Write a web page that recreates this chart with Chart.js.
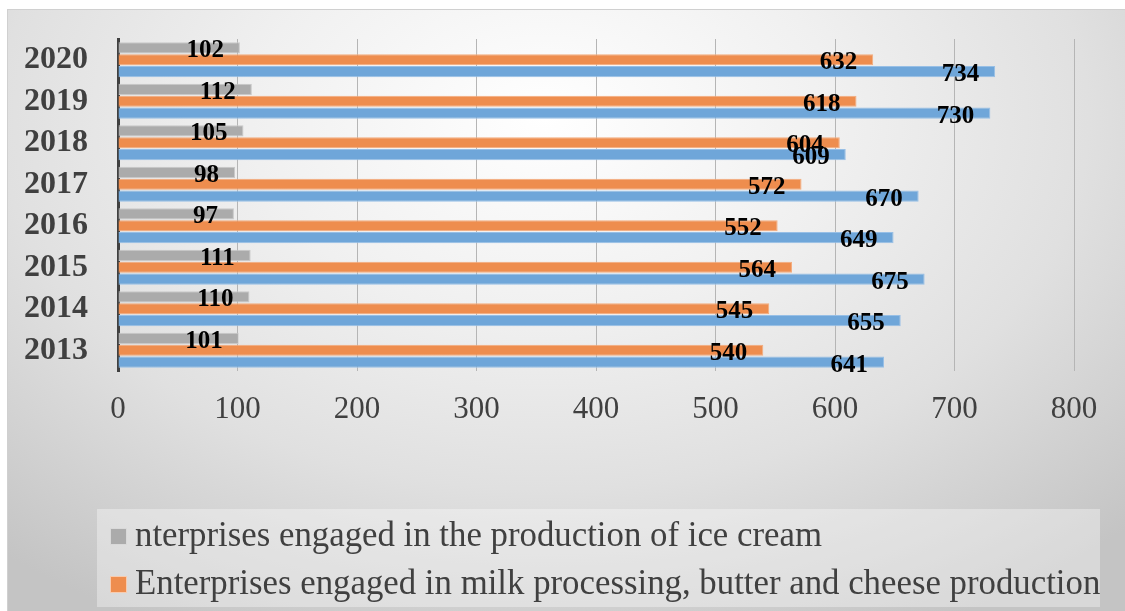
<!DOCTYPE html>
<html>
<head>
<meta charset="utf-8">
<script src="https://cdn.jsdelivr.net/npm/chart.js@4"></script>
<style>
  html, body { margin: 0; padding: 0; background: #fff; }
  #wrap { position: relative; width: 1125px; height: 611px; overflow: hidden; }
  #bg {
    position: absolute; left: 7px; top: 9px; right: 0; bottom: 0;
    border-top: 1px solid #d0d0d0; border-left: 1px solid #d0d0d0;
    background: radial-gradient(ellipse 75% 95% at 48% 18%, #ffffff 0%, #f0f0f0 35%, #e0e0e0 65%, #c4c4c4 100%);
  }
  #canvasBox { position: absolute; left: 0; top: 0; width: 1125px; height: 611px; }
  #legend {
    position: absolute; left: 97px; top: 509px; width: 1003px; height: 98px;
    background: rgba(255, 255, 255, 0.35);
    font-family: "Liberation Serif", "Times New Roman", serif;
    font-size: 34.8px; color: #404040;
  }
  .item { position: absolute; left: 13px; white-space: nowrap; line-height: 38px; }
  .item span.box {
    display: inline-block; width: 15px; height: 15px; margin-right: 8px;
    vertical-align: 1px; border: 1.5px solid rgba(255,255,255,0.55);
  }
</style>
</head>
<body>
<div id="wrap">
  <div id="bg"></div>
  <div id="canvasBox"><canvas id="chart"></canvas></div>
  <div id="legend"></div>
</div>
<script>
// top to bottom, as shown
const years = ['2020', '2019', '2018', '2017', '2016', '2015', '2014', '2013'];
const iceCream = [102, 112, 105, 98, 97, 111, 110, 101];
const milkButterCheese = [632, 618, 604, 572, 552, 564, 545, 540];
const thirdSeries = [734, 730, 609, 670, 649, 675, 655, 641];
const seriesNames = [
  'nterprises engaged in the production of ice cream',
  'Enterprises engaged in milk processing, butter and cheese production',
  'Enterprises engaged in dairy production'
];
const xTicks = [0, 100, 200, 300, 400, 500, 600, 700, 800];

const fills = ['#ababab', '#ee8d4e', '#6fa6d9'];
const edges = ['#c8c8c8', '#f3ac7d', '#97bfe6'];

// value labels, right aligned just inside the bar end
const barLabels = {
  id: 'barLabels',
  afterDatasetsDraw(chart) {
    const ctx = chart.ctx;
    ctx.save();
    ctx.font = 'bold 25px "Liberation Serif"';
    ctx.fillStyle = '#000';
    ctx.textAlign = 'right';
    ctx.textBaseline = 'middle';
    chart.data.datasets.forEach((ds, i) => {
      chart.getDatasetMeta(i).data.forEach((bar, j) => {
        ctx.fillText(ds.data[j], bar.x - 16, bar.y + 3);
      });
    });
    ctx.restore();
  }
};

const values = [iceCream, milkButterCheese, thirdSeries];

const chart = new Chart(document.getElementById('chart'), {
  type: 'bar',
  data: {
    labels: years,
    datasets: values.map((d, i) => ({
      label: seriesNames[i],
      data: d,
      backgroundColor: fills[i],
      borderColor: edges[i],
      borderWidth: 1,
      categoryPercentage: 0.86,
      barPercentage: 0.93
    }))
  },
  options: {
    indexAxis: 'y',
    responsive: true,
    maintainAspectRatio: false,
    animation: false,
    layout: { padding: { top: 39, right: 51, bottom: 180, left: 0 } },
    scales: {
      x: {
        min: 0,
        max: 800,
        afterBuildTicks: scale => { scale.ticks = xTicks.map(v => ({ value: v })); },
        afterFit: scale => { scale.height = 60; },
        grid: { color: '#b5b5b5', lineWidth: 1, drawTicks: false },
        border: { display: false },
        ticks: {
          padding: 20,
          color: '#404040',
          font: { family: 'Liberation Serif', size: 31 }
        }
      },
      y: {
        afterFit: scale => {
          scale.width = 118;
          scale.paddingTop = 0;
          scale.paddingBottom = 0;
        },
        grid: { display: false, drawTicks: false },
        border: { display: true, color: '#404040', width: 3 },
        ticks: {
          autoSkip: false,
          padding: 30,
          color: '#404040',
          font: { family: 'Liberation Serif', size: 32, weight: 'bold' }
        }
      }
    },
    plugins: {
      legend: { display: false },
      tooltip: { enabled: false }
    }
  },
  plugins: [barLabels]
});

// legend: only the first two series are visible in the picture
const legendEl = document.getElementById('legend');
[0, 1].forEach((i, row) => {
  const item = document.createElement('div');
  item.className = 'item';
  item.style.top = (7 + row * 48) + 'px';
  item.innerHTML = `<span class="box" style="background:${fills[i]}"></span>${seriesNames[i]}`;
  legendEl.appendChild(item);
});
</script>
</body>
</html>
